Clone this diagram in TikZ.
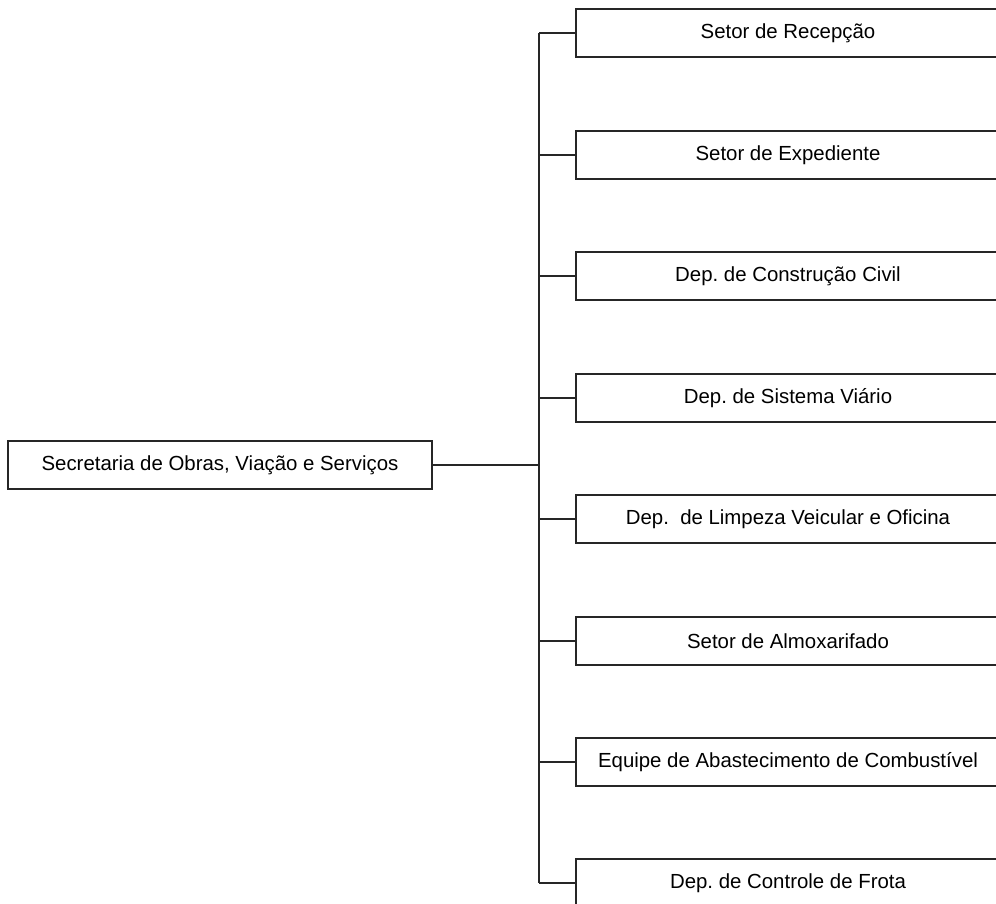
\documentclass[tikz,border=0pt]{standalone}
\usepackage{fontspec}
\setmainfont{Liberation Sans}
\usepackage{tikz}
\usetikzlibrary{
  positioning,
  calc,
}

\begin{document}
\frenchspacing
\begin{tikzpicture}[
  x=1pt, y=-1pt,
  line width=1.3pt,
  caixa/.style={draw=black!85, rectangle, inner sep=0pt,
    minimum width=424pt, minimum height=48pt,
    font=\fontsize{20.4}{24}\selectfont},
  ramo/.style={draw=black!85},
]
  \useasboundingbox (0,0) rectangle (996,904);
  \clip (0,0) rectangle (996,904);

  % Secretaria
  \node[caixa] (sec) at (220,465) {Secretaria de Obras, Viação e Serviços};

  % Setores e departamentos
  \node[caixa] (rec)    at (788,33)  {Setor de Recepção};
  \node[caixa] (exp)    at (788,155) {Setor de Expediente};
  \node[caixa] (civil)  at (788,276) {Dep. de Construção Civil};
  \node[caixa] (viario) at (788,398) {Dep. de Sistema Viário};
  \node[caixa] (limp)   at (788,519) {Dep.\ \ de Limpeza Veicular e Oficina};
  \node[caixa] (almox)  at (788,641) {Setor de Almoxarifado};
  \node[caixa] (comb)   at (788,762) {Equipe de Abastecimento de Combustível};
  \node[caixa] (frota)  at (788,883) {Dep. de Controle de Frota};

  % Tronco
  \coordinate (tronco) at (539,465);
  \draw[ramo] (sec.east) -- (tronco);
  \draw[ramo] (rec.west -| tronco) -- (frota.west -| tronco);
  \foreach \n in {rec,exp,civil,viario,limp,almox,comb,frota}
    \draw[ramo] (\n.west -| tronco) -- (\n.west);

\end{tikzpicture}
\end{document}
